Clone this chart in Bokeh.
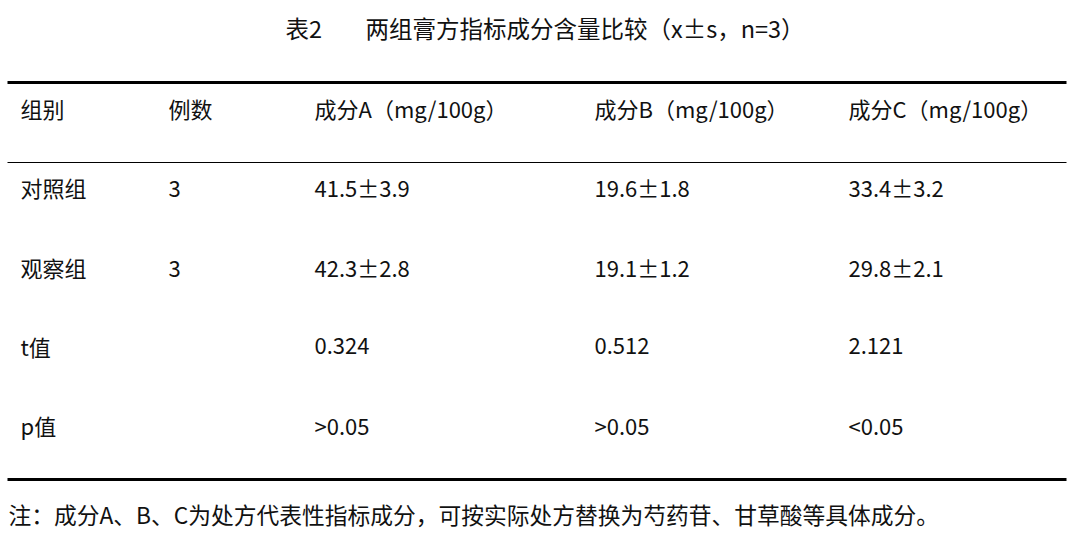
from bokeh.plotting import figure
from bokeh.models import Range1d, ColumnDataSource
from bokeh.core.properties import value
from bokeh.embed import file_html
from bokeh.resources import INLINE

title_no = "表2"
title = "两组膏方指标成分含量比较（x±s，n=3）"
headers = ["组别", "例数", "成分A（mg/100g）", "成分B（mg/100g）", "成分C（mg/100g）"]
groups = ["对照组", "观察组", "t值", "p值"]
counts = ["3", "3", "", ""]
comp_a = ["41.5±3.9", "42.3±2.8", "0.324", ">0.05"]
comp_b = ["19.6±1.8", "19.1±1.2", "0.512", ">0.05"]
comp_c = ["33.4±3.2", "29.8±2.1", "2.121", "<0.05"]
note = "注：成分A、B、C为处方代表性指标成分，可按实际处方替换为芍药苷、甘草酸等具体成分。"

W, H = 1072, 533
FONT = "Noto Sans CJK SC"
FS = "22px"
COLOR = "#111111"

p = figure(width=W, height=H, output_backend="svg", toolbar_location=None,
           x_range=Range1d(0, W), y_range=Range1d(H, 0),
           min_border=0)
p.axis.visible = False
p.grid.visible = False
p.outline_line_color = None
p.background_fill_color = "white"
p.border_fill_color = "white"

col_x = [20, 168, 314, 594, 848]
row_y = [186, 266, 345, 424]

# title
p.text(x=[285, 365], y=[27, 27], text=[title_no, title], text_font=value(FONT),
       text_font_size="23.5px", text_align="left", text_baseline="middle",
       text_color=COLOR)

# rules
p.segment(x0=[7], y0=[82], x1=[1066], y1=[82], line_color="black", line_width=3)
p.segment(x0=[7], y0=[162], x1=[1066], y1=[162], line_color="black", line_width=1.2)
p.segment(x0=[7], y0=[479], x1=[1066], y1=[479], line_color="black", line_width=3)

# header
p.text(x=col_x, y=[107] * 5, text=headers, text_font=value(FONT), text_font_size=FS,
       text_align="left", text_baseline="middle", text_color=COLOR)

# body
xs, ys, ts = [], [], []
for ci, (cols, cx) in enumerate(zip([groups, counts, comp_a, comp_b, comp_c], col_x)):
    for v, ry in zip(cols, row_y):
        if v:
            xs.append(cx)
            ys.append(ry + (2.5 if ci == 1 else 0))
            ts.append(v)
src = ColumnDataSource(dict(x=xs, y=ys, t=ts))
p.text(x="x", y="y", text="t", source=src, text_font=value(FONT), text_font_size=FS,
       text_align="left", text_baseline="middle", text_color=COLOR)

# note
p.text(x=[8], y=[514], text=[note], text_font=value(FONT), text_font_size="22.75px",
       text_align="left", text_baseline="middle", text_color=COLOR)

open("out.html", "w").write(file_html(p, INLINE))
